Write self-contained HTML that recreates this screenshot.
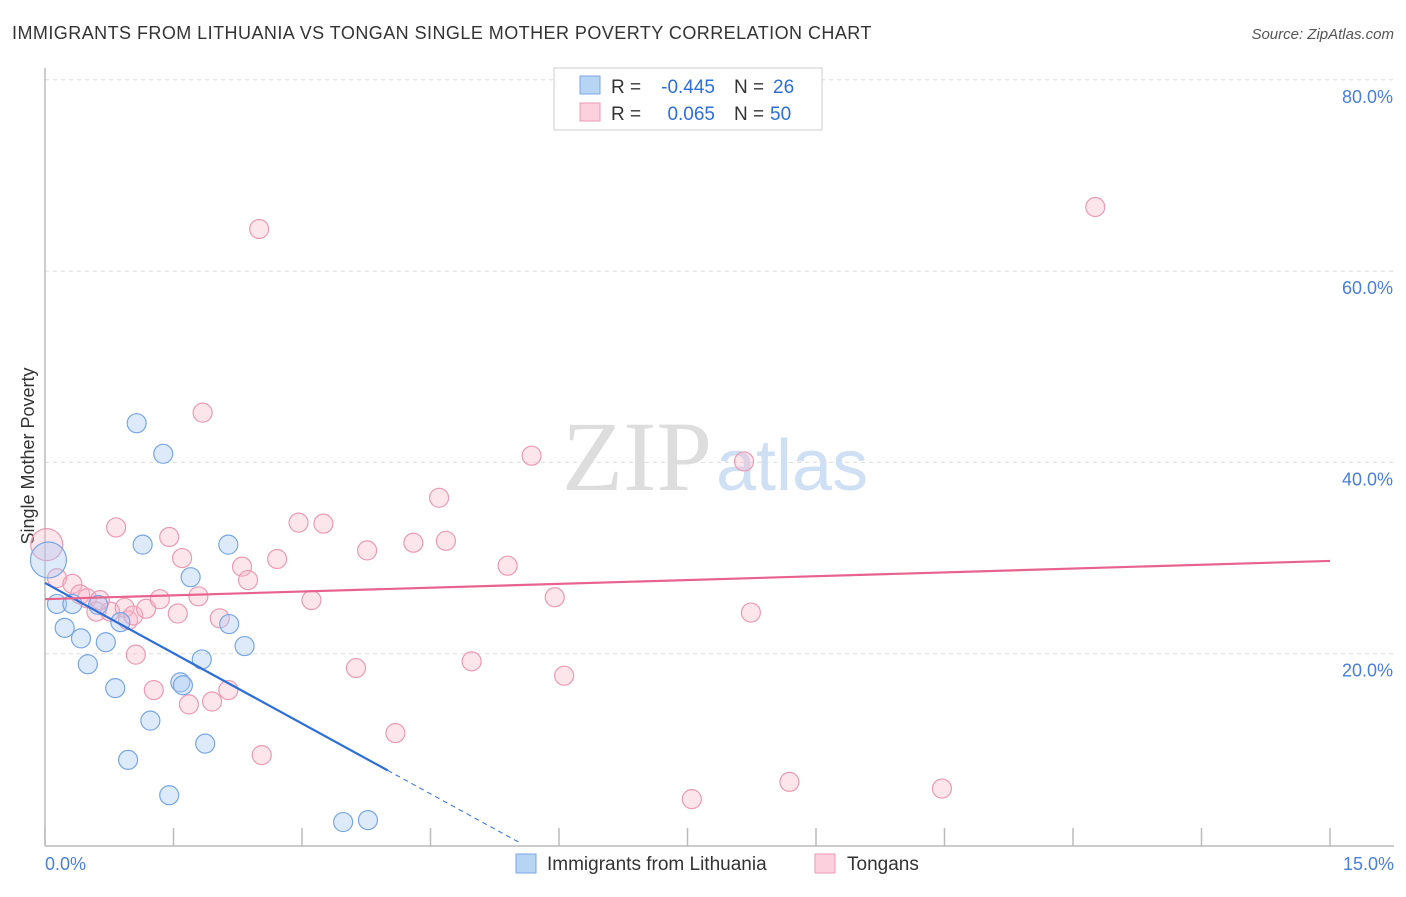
<!DOCTYPE html>
<html><head><meta charset="utf-8"><style>
body{margin:0;background:#fff;font-family:"Liberation Sans",sans-serif;}
</style></head><body>
<svg width="1406" height="892" xmlns="http://www.w3.org/2000/svg">
<text x="12" y="39" font-size="18" fill="#333" letter-spacing="0.45">IMMIGRANTS FROM LITHUANIA VS TONGAN SINGLE MOTHER POVERTY CORRELATION CHART</text>
<text x="1394" y="39" font-size="15" fill="#555" font-style="italic" text-anchor="end">Source: ZipAtlas.com</text>
<g id="grid"></g>
<text x="712" y="490" font-size="100" font-family="Liberation Serif,serif" fill="#ddd" text-anchor="end">ZIP</text>
<text x="716" y="490" font-size="72" fill="#cfe0f5">atlas</text>
<line x1="45" y1="68" x2="45" y2="846" stroke="#bbb" stroke-width="1.5"/>
<line x1="45" y1="846" x2="1394" y2="846" stroke="#bbb" stroke-width="1.5"/>
<g id="ticks"></g>
<g id="ylabels"></g>
<text x="45" y="870" font-size="18" fill="#4a7fd4">0.0%</text>
<text x="1394" y="870" font-size="18" fill="#4a7fd4" text-anchor="end">15.0%</text>
<text transform="translate(34,456) rotate(-90)" font-size="18" fill="#333" text-anchor="middle">Single Mother Poverty</text>
<g id="pts"></g>
<g id="trends"></g>
<g>
<rect x="554" y="68" width="268" height="62" fill="#fff" stroke="#ccc"/>
<rect x="580" y="76" width="20" height="18" fill="#b8d4f5" stroke="#7aa8e6"/>
<rect x="580" y="103" width="20" height="18" fill="#fcd0dc" stroke="#eb9ab4"/>
<text x="611" y="93" font-size="19" fill="#333">R =</text>
<text x="715" y="93" font-size="19" fill="#2d6fd6" text-anchor="end">-0.445</text>
<text x="734" y="93" font-size="19" fill="#333">N =</text>
<text x="773" y="93" font-size="19" fill="#2d6fd6">26</text>
<text x="611" y="120" font-size="19" fill="#333">R =</text>
<text x="715" y="120" font-size="19" fill="#2d6fd6" text-anchor="end">0.065</text>
<text x="734" y="120" font-size="19" fill="#333">N =</text>
<text x="770" y="120" font-size="19" fill="#2d6fd6">50</text>
</g>
<g>
<rect x="516" y="854" width="20" height="19" fill="#b8d4f5" stroke="#7aa8e6"/>
<text x="547" y="870" font-size="19" fill="#333">Immigrants from Lithuania</text>
<rect x="815" y="854" width="20" height="19" fill="#fcd0dc" stroke="#eb9ab4"/>
<text x="847" y="870" font-size="19" fill="#333">Tongans</text>
</g>
</svg>
<script>
const blueX=[0.04,0.14,0.32,0.62,0.23,0.42,0.71,0.88,0.50,0.82,1.23,0.97,1.45,1.07,1.38,1.14,1.70,2.14,2.15,2.33,1.83,1.58,1.61,1.87,3.48,3.77];
const blueY=[29.8,25.2,25.2,25.1,22.7,21.6,21.2,23.3,18.9,16.4,13.0,8.9,5.2,44.1,40.9,31.4,28.0,31.4,23.1,20.8,19.4,17.0,16.7,10.6,2.4,2.6];
const pinkX=[0.02,0.14,0.32,0.41,0.49,0.60,0.76,0.97,0.93,1.03,1.18,0.83,1.06,1.34,1.27,1.45,1.60,1.55,1.79,1.68,1.95,2.04,2.14,2.30,2.37,1.84,2.50,2.53,2.71,2.96,3.11,3.25,3.63,3.76,4.09,4.30,4.68,4.60,4.98,5.40,5.68,5.95,6.06,7.55,8.16,8.24,8.69,10.47,12.26,0.64];
const pinkY=[31.4,27.9,27.3,26.2,25.8,24.4,24.4,23.5,24.8,24.0,24.7,33.2,19.9,25.7,16.2,32.2,30.0,24.2,26.0,14.7,15.0,23.7,16.2,29.1,27.7,45.2,64.4,9.4,29.9,33.7,25.6,33.6,18.5,30.8,11.7,31.6,31.8,36.3,19.2,29.2,40.7,25.9,17.7,4.8,40.1,24.3,6.6,5.9,66.7,25.6];
const yTicks=[20,40,60,80];
const xTicks=[0,1.5,3,4.5,6,7.5,9,10.5,12,13.5,15];
const blueTrend=[0,27.4,4.0,7.8,5.55,0.2];
const pinkTrend=[0,25.7,15,29.7];
const sx=v=>45+v/15*1285, sy=v=>845-v/20*191.3;
const NS="http://www.w3.org/2000/svg";
function mk(t,a,p){const e=document.createElementNS(NS,t);for(const k in a)e.setAttribute(k,a[k]);p.appendChild(e);return e;}
const grid=document.getElementById('grid'),yl=document.getElementById('ylabels'),tk=document.getElementById('ticks');
yTicks.forEach(v=>{const l=mk('line',{x1:45,x2:1394,y1:sy(v),y2:sy(v),stroke:'#ddd','stroke-dasharray':'4,4'},grid);


const t=mk('text',{x:1393,y:sy(v)+23,'font-size':18,fill:'#4a7fd4','text-anchor':'end'},yl);t.textContent=v.toFixed(1)+'%';

});
xTicks.forEach(v=>{const l=mk('line',{x1:sx(v),x2:sx(v),y1:828,y2:846,stroke:'#bbb','stroke-width':1.5},tk);

});
const pts=document.getElementById('pts');
pinkX.forEach((x,i)=>{const c=mk('circle',{cx:sx(x),cy:sy(pinkY[i]),r:i==0?16:9.5,fill:'rgba(248,180,200,0.35)',stroke:'#eb9ab4','stroke-width':1.2},pts);

});
blueX.forEach((x,i)=>{const c=mk('circle',{cx:sx(x),cy:sy(blueY[i]),r:i==0?18:9.5,fill:'rgba(170,202,242,0.4)',stroke:'#79a7e3','stroke-width':1.2},pts);

});
const tr=document.getElementById('trends');
let a=mk('line',{x1:sx(blueTrend[0]),y1:sy(blueTrend[1]),x2:sx(blueTrend[2]),y2:sy(blueTrend[3]),stroke:'#2d6fd6','stroke-width':2.2},tr);


let b=mk('line',{x1:sx(blueTrend[2]),y1:sy(blueTrend[3]),x2:sx(blueTrend[4]),y2:sy(blueTrend[5]),stroke:'#2d6fd6','stroke-width':1,'stroke-dasharray':'5,4'},tr);


let c=mk('line',{x1:sx(pinkTrend[0]),y1:sy(pinkTrend[1]),x2:sx(pinkTrend[2]),y2:sy(pinkTrend[3]),stroke:'#e8628e','stroke-width':2.2},tr);


</script>
</body></html>
